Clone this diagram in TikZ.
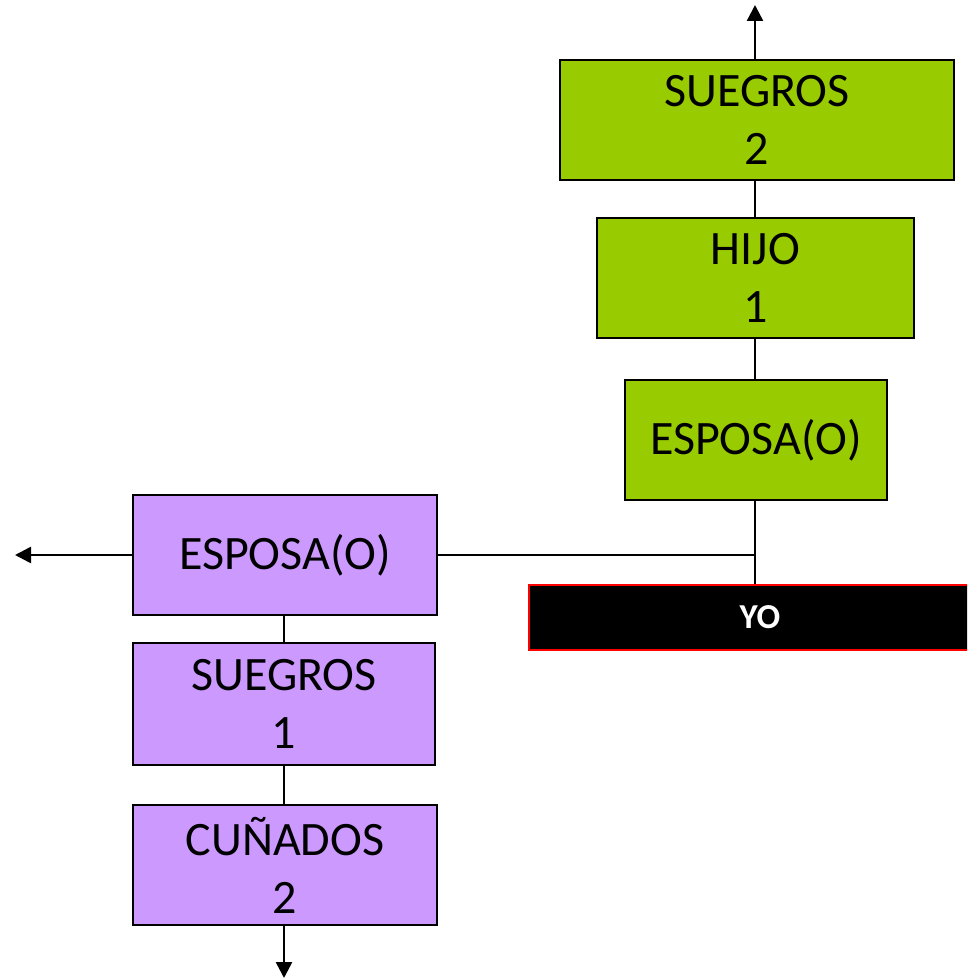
\documentclass[tikz,border=0pt]{standalone}
\usepackage{fontspec}
\setmainfont{Carlito}
\usetikzlibrary{arrows.meta}
\definecolor{verde}{HTML}{99CC00}
\definecolor{lila}{HTML}{CC99FF}
\begin{document}
\begin{tikzpicture}
  [x=1pt,y=-1pt,every node/.style={draw,line width=1.6pt,rectangle,inner sep=0pt,
   align=center,font=\fontsize{48}{58}\selectfont,minimum height=120pt}]
  \clip (0,0) rectangle (967,979);
  \node (s2)[fill=verde,minimum width=394pt] at (757,120) {SUEGROS\\2};
  \node (h1)[fill=verde,minimum width=317pt] at (755.5,278) {HIJO\\1};
  \node (eg)[fill=verde,minimum width=262pt] at (756,440) {ESPOSA(O)};
  \node (yo)[fill=black,draw=red,text=white,minimum width=462pt,minimum height=65pt,
             font=\fontsize{35}{40}\selectfont\bfseries] at (760,617.5) {YO};
  \node (ep)[fill=lila,minimum width=304pt] at (285,555) {ESPOSA(O)};
  \node (s1)[fill=lila,minimum width=302pt,minimum height=122pt] at (284,704) {SUEGROS\\1};
  \node (cu)[fill=lila,minimum width=304pt] at (285,865) {CUÑADOS\\2};

  \coordinate (up) at (755,5);
  \coordinate (left) at (15,555);
  \coordinate (down) at (284,978);

  \foreach \from/\to/\col in {s2/h1/up,h1/eg/up,eg/yo/up,ep/s1/down,s1/cu/down}
    \draw[line width=2.5pt] (\from.south -| \col) -- (\to.north -| \col);
  \draw[line width=2.5pt] (ep.east) -- (ep.east -| up);
  \draw[line width=2.5pt,-{Triangle[length=16pt,width=16pt]}] (up |- s2.north) -- (up);
  \draw[line width=2.5pt,-{Triangle[length=16pt,width=16pt]}] (ep.west) -- (left);
  \draw[line width=2.5pt,-{Triangle[length=16pt,width=16pt]}] (down |- cu.south) -- (down);
\end{tikzpicture}
\end{document}
